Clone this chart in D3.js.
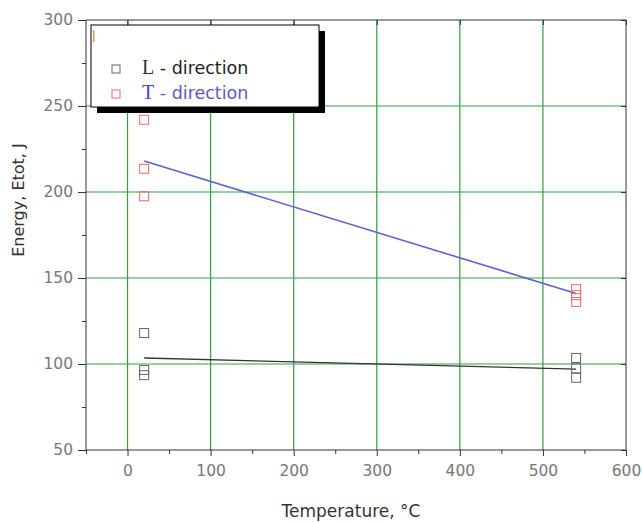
<!DOCTYPE html>
<html lang="en">
<head>
  <meta charset="UTF-8">
  <title>Energy vs Temperature</title>
  <style>
      body { margin: 0; background: #fff; }
      .tick text { font-family: "DejaVu Sans", sans-serif; font-size: 15.5px; fill: #777; }
      .grid line { stroke: #2ea043; stroke-width: 1.2px; }
      .axis path, .axis line { stroke: #333; }
  </style>
</head>
<body>
<div id="chart"></div>
<script src="https://d3js.org/d3.v7.min.js"></script>
<script>
  const lTemp = [20, 20, 20, 540, 540, 540];
  const lEnergy = [118, 96.5, 93.5, 103.5, 97.5, 92];
  const tTemp = [20, 20, 20, 540, 540, 540];
  const tEnergy = [242, 213.5, 197.5, 143.5, 140, 136];
  // fitted trend lines (endpoints)
  const lFitTemp = [20, 540];
  const lFitEnergy = [103.5, 97];
  const tFitTemp = [20, 540];
  const tFitEnergy = [218, 141];
  const xTicks = [0, 100, 200, 300, 400, 500, 600];
  const yTicks = [50, 100, 150, 200, 250, 300];

  const W = 642, H = 522;
  const margin = {top: 20, right: 16, bottom: 72, left: 86};

  const svg = d3.select("#chart").append("svg")
    .attr("width", W)
    .attr("height", H);

  const x = d3.scaleLinear().domain([-50, 600]).range([margin.left, W - margin.right]);
  const y = d3.scaleLinear().domain([50, 300]).range([H - margin.bottom, margin.top]);

  // grid
  svg.append("g")
    .attr("class", "grid")
    .selectAll("line")
    .data(xTicks.slice(0, -1))
    .join("line")
    .attr("x1", d => x(d)).attr("x2", d => x(d))
    .attr("y1", y(50)).attr("y2", y(300));

  svg.append("g")
    .attr("class", "grid")
    .selectAll("line")
    .data(yTicks.slice(1, -1))
    .join("line")
    .attr("x1", x(-50)).attr("x2", x(600))
    .attr("y1", d => y(d)).attr("y2", d => y(d));

  // trend lines
  const line = d3.line()
    .x(d => x(d[0]))
    .y(d => y(d[1]));

  svg.append("path")
    .datum(d3.zip(tFitTemp, tFitEnergy))
    .attr("d", line)
    .attr("fill", "none")
    .attr("stroke", "#5b63d6")
    .attr("stroke-width", 1.6);

  svg.append("path")
    .datum(d3.zip(lFitTemp, lFitEnergy))
    .attr("d", line)
    .attr("fill", "none")
    .attr("stroke", "#333")
    .attr("stroke-width", 1.3);

  // points
  const sq = 9;
  svg.append("g")
    .selectAll("rect")
    .data(d3.zip(lTemp, lEnergy))
    .join("rect")
    .attr("x", d => x(d[0]) - sq / 2)
    .attr("y", d => y(d[1]) - sq / 2)
    .attr("width", sq).attr("height", sq)
    .attr("fill", "none")
    .attr("stroke", "#666");

  svg.append("g")
    .selectAll("rect")
    .data(d3.zip(tTemp, tEnergy))
    .join("rect")
    .attr("x", d => x(d[0]) - sq / 2)
    .attr("y", d => y(d[1]) - sq / 2)
    .attr("width", sq).attr("height", sq)
    .attr("fill", "none")
    .attr("stroke", "#e26a6a");

  // axes
  svg.append("g")
    .attr("class", "axis")
    .attr("transform", `translate(${margin.left},0)`)
    .call(d3.axisLeft(y).tickValues(yTicks).tickSize(8).tickPadding(5))
    .call(g => g.select(".domain").attr("d", `M0,${y(50)}V${y(300)}`));

  svg.append("g")
    .attr("class", "axis")
    .attr("transform", `translate(${margin.left},0)`)
    .call(d3.axisLeft(y).tickValues([75, 125, 175, 225, 275]).tickSize(4).tickFormat(""))
    .call(g => g.select(".domain").remove());

  svg.append("g")
    .attr("class", "axis")
    .attr("transform", `translate(0,${H - margin.bottom})`)
    .call(d3.axisBottom(x).tickValues(xTicks).tickSize(6).tickPadding(9))
    .call(g => g.select(".domain").attr("d", `M${x(-50)},0H${x(600)}`));

  svg.append("g")
    .attr("class", "axis")
    .attr("transform", `translate(0,${H - margin.bottom})`)
    .call(d3.axisBottom(x).tickValues([-50, 50, 150, 250, 350, 450, 550]).tickSize(4).tickFormat(""))
    .call(g => g.select(".domain").remove());

  // top and right frame
  svg.append("g")
    .attr("class", "axis")
    .attr("transform", `translate(0,${margin.top})`)
    .call(d3.axisTop(x).tickValues(xTicks).tickSize(-5).tickFormat(""))
    .call(g => g.select(".domain").attr("d", `M${x(-50)},0H${x(600)}`));

  svg.append("g")
    .attr("class", "axis")
    .attr("transform", `translate(${W - margin.right},0)`)
    .call(d3.axisRight(y).tickValues(yTicks).tickSize(-5).tickFormat(""))
    .call(g => g.select(".domain").attr("d", `M0,${y(50)}V${y(300)}`));

  // legend
  const lg = svg.append("g").attr("transform", "translate(91,25)");
  lg.append("rect").attr("x", 6).attr("y", 6).attr("width", 228).attr("height", 82).attr("fill", "#000");
  lg.append("rect").attr("width", 228).attr("height", 82).attr("fill", "#fff").attr("stroke", "#000");
  lg.append("rect").attr("x", 2).attr("y", 5).attr("width", 1.5).attr("height", 12).attr("fill", "#d4a050");

  const items = [
    {name: "L", label: " - direction", color: "#666", text: "#222", letter: "#333"},
    {name: "T", label: " - direction", color: "#e26a6a", text: "#5a5acc", letter: "#3a4ad0"}
  ];
  items.forEach((it, i) => {
    const yy = 44 + i * 25;
    lg.append("rect")
      .attr("x", 21).attr("y", yy - 4).attr("width", 8).attr("height", 8)
      .attr("fill", "none").attr("stroke", it.color);
    const t = lg.append("text")
      .attr("x", 51).attr("y", yy + 5)
      .attr("font-family", "DejaVu Sans").attr("font-size", 17.5);
    t.append("tspan").attr("font-family", "Liberation Serif").attr("font-size", 20)
      .attr("fill", it.letter).text(it.name);
    t.append("tspan").attr("fill", it.text).text(it.label);
  });

  // axis titles
  svg.append("text")
    .attr("transform", `translate(24,200) rotate(-90)`)
    .attr("text-anchor", "middle")
    .attr("font-family", "DejaVu Sans")
    .attr("font-size", 16)
    .attr("fill", "#333")
    .text("Energy, Etot, J");

  svg.append("text")
    .attr("x", 351)
    .attr("y", 517)
    .attr("text-anchor", "middle")
    .attr("font-family", "DejaVu Sans")
    .attr("font-size", 17)
    .attr("fill", "#333")
    .text("Temperature, °C");
</script>
</body>
</html>
